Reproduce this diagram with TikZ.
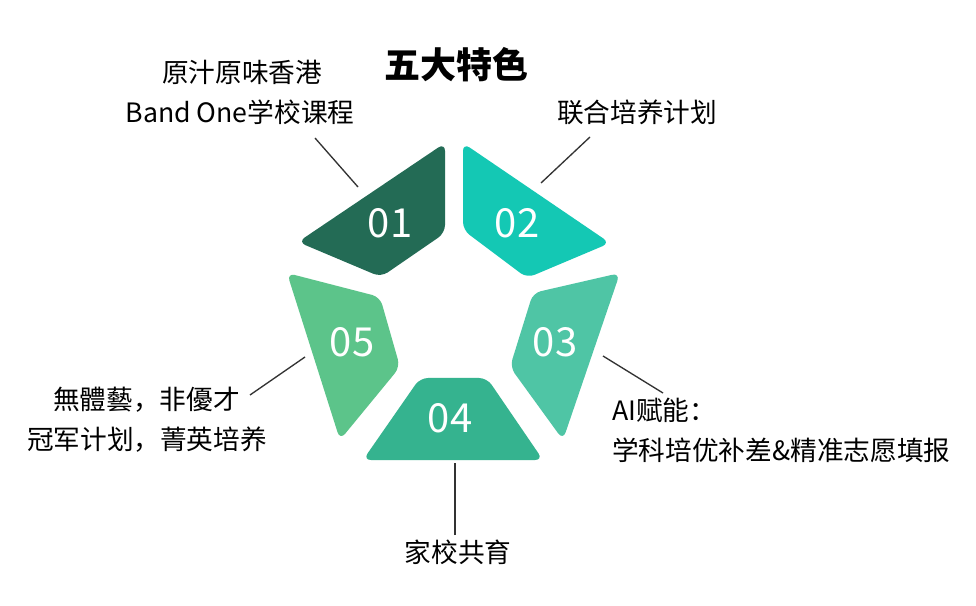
\documentclass[tikz,border=0pt]{standalone}
\usepackage{fontspec}
\setmainfont{Noto Sans CJK SC}
\begin{document}
\begin{tikzpicture}[x=0.75pt,y=-0.75pt,
  seg/.style={rounded corners=6pt,draw=none},
  num/.style={text=white,font=\fontsize{30}{30}\selectfont},
  lab/.style={font=\fontsize{20}{24}\selectfont,text=black,inner sep=0},
  con/.style={draw=black!80,line width=1pt}]
\useasboundingbox (0,0) rectangle (976,606);
\fill[white] (0,0) rectangle (976,606);
\fill[seg,fill={rgb,255:red,35;green,107;blue,85}] (298,242)--(445,143)--(445,233)--(381,277)--cycle;
\fill[seg,fill={rgb,255:red,20;green,200;blue,180}] (463,143)--(610,243)--(527,278)--(463,230)--cycle;
\fill[seg,fill={rgb,255:red,79;green,197;blue,165}] (620,273)--(563,440)--(510,367)--(533,293)--cycle;
\fill[seg,fill={rgb,255:red,53;green,179;blue,143}] (420,378)--(487,378)--(543,460)--(363,460)--cycle;
\fill[seg,fill={rgb,255:red,92;green,196;blue,138}] (287,273)--(380,297)--(400,367)--(340,440)--cycle;
\node[num] (n1) at (390,223) {01};
\node[num] (n2) at (517,223) {02};
\node[num] (n3) at (555,342) {03};
\node[num] (n4) at (450,418) {04};
\node[num] (n5) at (352,342) {05};
\node[font=\fontsize{27}{27}\selectfont\bfseries] (t) at (456,65) {五大特色};
\node[lab] (l1a) at (242,72) {原汁原味香港};
\node[lab] (l1b) at (240,112) {Band One学校课程};
\node[lab] (l2) at (637,112) {联合培养计划};
\node[lab,anchor=west] (l3a) at (612,410) {AI赋能：};
\node[lab,anchor=west] (l3b) at (612,450) {学科培优补差\&精准志愿填报};
\node[lab,anchor=east] (l5a) at (240,400) {無體藝，非優才};
\node[lab] (l5b) at (147,440) {冠军计划，菁英培养};
\node[lab] (l4) at (458,552) {家校共育};
\coordinate (a1) at (315,138); \coordinate (b1) at (358,187);
\coordinate (a2) at (590,137); \coordinate (b2) at (541,183);
\coordinate (a3) at (663,393); \coordinate (b3) at (603,356);
\coordinate (a4) at (455,535); \coordinate (b4) at (455,463);
\coordinate (a5) at (250,395); \coordinate (b5) at (305,357);
\draw[con] (a1)--(b1); \draw[con] (a2)--(b2); \draw[con] (a3)--(b3);
\draw[con] (a4)--(b4); \draw[con] (a5)--(b5);
\end{tikzpicture}
\end{document}
